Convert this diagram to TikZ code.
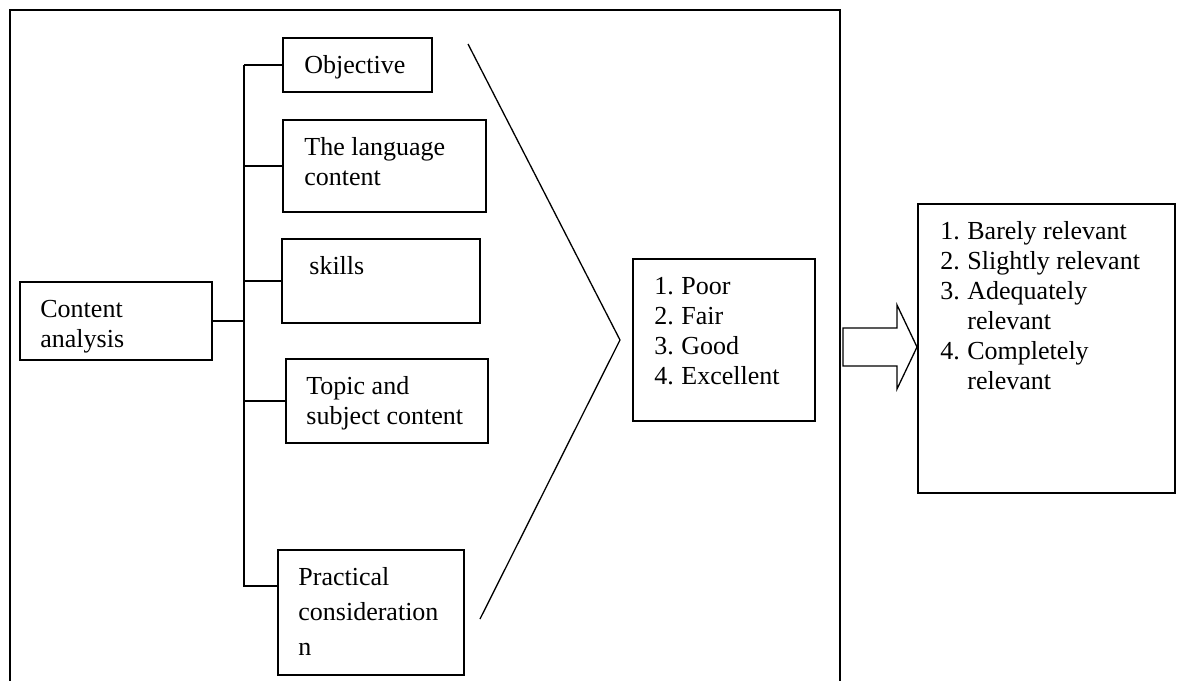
\documentclass[tikz,border=0pt]{standalone}
\usepackage{fontspec}
\setmainfont{Liberation Serif}
\usetikzlibrary{fit}

\newcommand{\itm}[1]{\makebox[13.5pt][l]{#1}}
\newcommand{\boxlines}[1]{\begin{tabular}[t]{@{}l@{}}#1\end{tabular}}

\begin{document}
\begin{tikzpicture}[x=0.5pt,y=-0.5pt,
    box/.style={draw,line width=0.8pt,inner sep=0pt},
    txt/.style={anchor=base west,inner sep=0pt,font=\fontsize{13}{15}\selectfont}]
      \useasboundingbox (0,0) rectangle (1182,680);
      % frame, open at the bottom
      \draw [line width=0.8pt] (10,684) -- (10,10) -- (840,10) -- (840,684);

      % boxes
      \node [box,fit={(20,282)(212,360)}]   (ca)    {};
      \node [box,fit={(283,38)(432,92)}]    (obj)   {};
      \node [box,fit={(283,120)(486,212)}]  (lang)  {};
      \node [box,fit={(282,239)(480,323)}]  (skill) {};
      \node [box,fit={(286,359)(488,443)}]  (topic) {};
      \node [box,fit={(278,550)(464,675)}]  (prac)  {};
      \node [box,fit={(633,259)(815,421)}]  (scale) {};
      \node [box,fit={(918,204)(1175,493)}] (rel)   {};

      % texts
      \node [txt] (ca-t)    at (40,317)  {\boxlines{Content\\analysis}};
      \node [txt] (obj-t)   at (304,73)  {Objective};
      \node [txt] (lang-t)  at (304,155) {\boxlines{The language\\content}};
      \node [txt] (skill-t) at (309,274) {skills};
      \node [txt] (topic-t) at (306,394) {\boxlines{Topic and\\subject content}};
      \node [txt,font=\fontsize{13}{17.5}\selectfont] (prac-t) at (298,585)
            {\boxlines{Practical\\consideration\\n}};
      \node [txt] (scale-t) at (654,294)
            {\boxlines{\itm{1.}Poor\\\itm{2.}Fair\\\itm{3.}Good\\\itm{4.}Excellent}};
      \node [txt] (rel-t)   at (940,239)
            {\boxlines{\itm{1.}Barely relevant\\\itm{2.}Slightly relevant\\\itm{3.}Adequately\\\itm{}relevant\\\itm{4.}Completely\\\itm{}relevant}};

      % tree
      \coordinate (tx)  at (244,0);
      \coordinate (pj)  at (278,586);
      \draw [line width=0.8pt] (obj.west -| tx) -- (pj -| tx) -- (pj);
      \foreach \n in {obj,lang,skill,topic}
        \draw [line width=0.8pt] (\n.west) -- (\n.west -| tx);
      \draw [line width=0.8pt] (ca.east) -- (ca.east -| tx);

      % chevron
      \coordinate (chtop) at (468,44);
      \coordinate (chtip) at (620,340);
      \coordinate (chbot) at (480,619);
      \draw [line width=0.65pt] (chtop) -- (chtip) -- (chbot);

      % block arrow
      \draw [line width=0.65pt] (843,328) -- (897,328) -- (897,305) -- (917,347)
            -- (897,389) -- (897,366) -- (843,366) -- cycle;
    \end{tikzpicture}
\end{document}
